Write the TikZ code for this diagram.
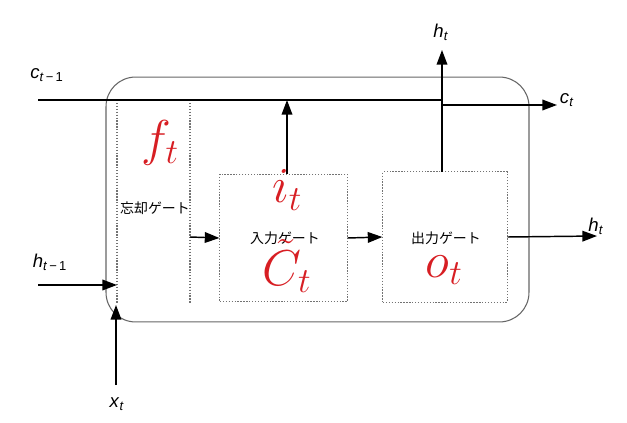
\RequirePackage{fix-cm}
\documentclass[tikz,border=0pt]{standalone}
\usepackage{amsmath}
\usepackage{fontspec}
\setmainfont{Liberation Sans}
\newfontfamily\jpfont{Noto Sans CJK JP}
\usepackage{tikz}
\usetikzlibrary{arrows.meta}
\definecolor{gatered}{RGB}{215,30,35}

\begin{document}
\begin{tikzpicture}[x=0.0265cm, y=-0.0265cm,
        flow/.style = {line width=1.1pt, -{Triangle[length=11pt, width=8pt]}},
        wire/.style = {line width=1.1pt},
        cellbox/.style = {draw=black!60, line width=0.8pt, rounded corners=0.78cm, minimum width=11.21cm, minimum height=6.49cm},
        gatebox/.style = {draw=black!55, dash pattern=on 1pt off 1.2pt, line width=0.8pt},
        sym/.style = {text=gatered, font=\fontsize{38}{40}\selectfont},
        jp/.style = {font=\jpfont\fontsize{10.5}{12}\selectfont},
        lbl/.style = {font=\fontsize{14}{16}\selectfont, inner sep=0pt}]
        \useasboundingbox (0,0) rectangle (627,423);
        \node[cellbox] (cell) at (317.5,199.5) {};
        \node[gatebox, minimum width=3.37cm, minimum height=3.39cm] (igate) at (283.5,238) {};
        \node[gatebox, minimum width=3.29cm, minimum height=3.45cm] (ogate) at (445,237) {};
        % forget gate column
        \coordinate (fl) at (117,100);
        \coordinate (fr) at (190,100);
        \coordinate (flb) at (117,303);
        \coordinate (frb) at (190,303);
        \coordinate (fout) at (190,237);
        \draw[gatebox] (fl) -- (flb);
        \draw[gatebox] (fr) -- (frb);
        % texts inside the gates
        \node[sym] (ft) at (160,143) {$f_t$};
        \node[jp] (fname) at (155,208) {忘却ゲート};
        \node[sym] (it) at (287,190) {$i_t$};
        \node[jp] (iname) at (285,238) {入力ゲート};
        \node[sym] (ct) at (287,266) {$\tilde{C}_t$};
        \node[jp] (oname) at (446,238) {出力ゲート};
        \node[sym] (ot) at (444,270) {$o_t$};
        % cell state
        \coordinate (cin) at (38,100);
        \coordinate (cjoin) at (442,100);
        \coordinate (cbranch) at (442,105);
        \coordinate (ctip) at (557,105);
        \coordinate (itop) at (287,100);
        \coordinate (htop) at (442,50);
        \coordinate (obottom) at (442,172);
        \node[lbl] (cprev) at (47,75) {\textit{c}\textsubscript{\textit{t}\,−\,1}};
        \node[lbl] (cnext) at (567,100) {\textit{c}\textsubscript{\textit{t}}};
        \node[lbl] (hup) at (441,32) {\textit{h}\textsubscript{\textit{t}}};
        \draw[wire] (cin) -- (cjoin);
        \draw[flow] (cbranch) -- (ctip);
        \draw[flow] (obottom) -- (htop);
        \draw[flow] (igate.north -| itop) -- (itop);
        % hidden state and input
        \coordinate (hin) at (38,285);
        \coordinate (hend) at (117,285);
        \coordinate (xin) at (116,385);
        \coordinate (xend) at (116,305);
        \coordinate (hout) at (597,236);
        \node[lbl] (hprev) at (50,262) {\textit{h}\textsubscript{\textit{t}\,−\,1}};
        \node[lbl] (xt) at (117,404) {\textit{x}\textsubscript{\textit{t}}};
        \node[lbl] (hnext) at (596,226) {\textit{h}\textsubscript{\textit{t}}};
        \draw[flow] (hin) -- (hend);
        \draw[flow] (xin) -- (xend);
        \draw[flow] (fout) -- (igate.west);
        \draw[flow] (igate.east) -- (ogate.west);
        \draw[flow] (ogate.east) -- (hout);
      \end{tikzpicture}
\end{document}
